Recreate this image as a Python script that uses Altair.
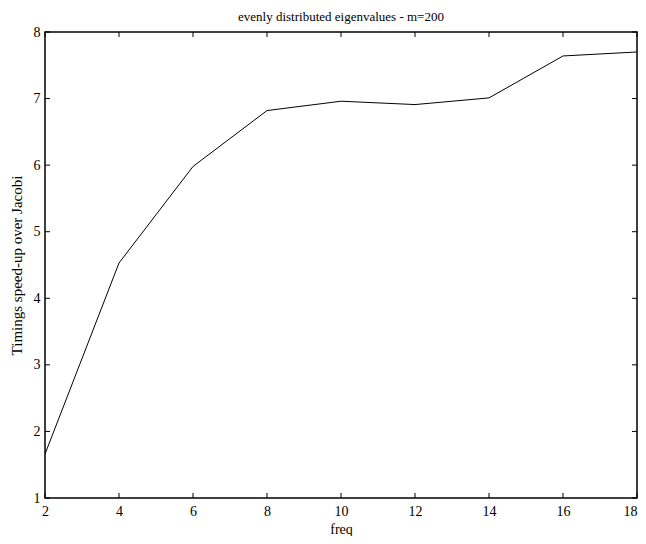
import altair as alt
import pandas as pd

freq = [2, 4, 6, 8, 10, 12, 14, 16, 18]
speedup = [1.66, 4.53, 5.98, 6.82, 6.96, 6.91, 7.01, 7.64, 7.70]
x_ticks = [2, 4, 6, 8, 10, 12, 14, 16, 18]
y_ticks = [1, 2, 3, 4, 5, 6, 7, 8]

W, H = 592, 466
FONT = "Liberation Serif"

df = pd.DataFrame({"freq": freq, "speedup": speedup})
xt = pd.DataFrame({"t": x_ticks})
yt = pd.DataFrame({"t": y_ticks})

xscale = alt.Scale(domain=[2, 18], nice=False, zero=False)
yscale = alt.Scale(domain=[1, 8], nice=False, zero=False)

line = alt.Chart(df).mark_line(color="black", strokeWidth=1).encode(
    x=alt.X("freq:Q", scale=xscale,
            axis=alt.Axis(title="freq", values=x_ticks, format="d", ticks=False,
                          grid=False, domain=False, labelPadding=6, titlePadding=4,
                          labelFlush=False,
                          labelAlign=alt.expr("datum.value == 18 ? 'right' : 'center'"),
                          labelFontSize=14, titleFontSize=14, labelFont=FONT,
                          titleFont=FONT, titleFontWeight="normal",
                          labelColor="black", titleColor="black")),
    y=alt.Y("speedup:Q", scale=yscale,
            axis=alt.Axis(title="Timings speed-up over Jacobi", values=y_ticks,
                          format="d", ticks=False, grid=False, domain=False,
                          labelFlush=False,
                          labelPadding=5, titlePadding=9, labelFontSize=14,
                          titleFontSize=15, labelFont=FONT, titleFont=FONT,
                          titleFontWeight="normal",
                          labelColor="black", titleColor="black")),
)

bottom_ticks = alt.Chart(xt).mark_rule(color="black", strokeWidth=1).encode(
    x=alt.X("t:Q", scale=xscale), y=alt.value(H), y2=alt.value(H - 5))
top_ticks = alt.Chart(xt).mark_rule(color="black", strokeWidth=1).encode(
    x=alt.X("t:Q", scale=xscale), y=alt.value(0), y2=alt.value(5))
left_ticks = alt.Chart(yt).mark_rule(color="black", strokeWidth=1).encode(
    y=alt.Y("t:Q", scale=yscale), x=alt.value(0), x2=alt.value(5))
right_ticks = alt.Chart(yt).mark_rule(color="black", strokeWidth=1).encode(
    y=alt.Y("t:Q", scale=yscale), x=alt.value(W), x2=alt.value(W - 5))

chart = alt.layer(line, bottom_ticks, top_ticks, left_ticks, right_ticks).properties(
    width=W, height=H,
    background="white",
    title=alt.TitleParams("evenly distributed eigenvalues - m=200", font=FONT,
                          fontSize=13, fontWeight="normal", color="black", offset=1),
    autosize=alt.AutoSizeParams(type="none"),
    padding={"left": 37, "top": 24, "right": 1, "bottom": 38},
).configure_view(stroke="black", strokeWidth=1.5)

chart.save("out.html", embed_options={"renderer": "svg", "actions": False})
